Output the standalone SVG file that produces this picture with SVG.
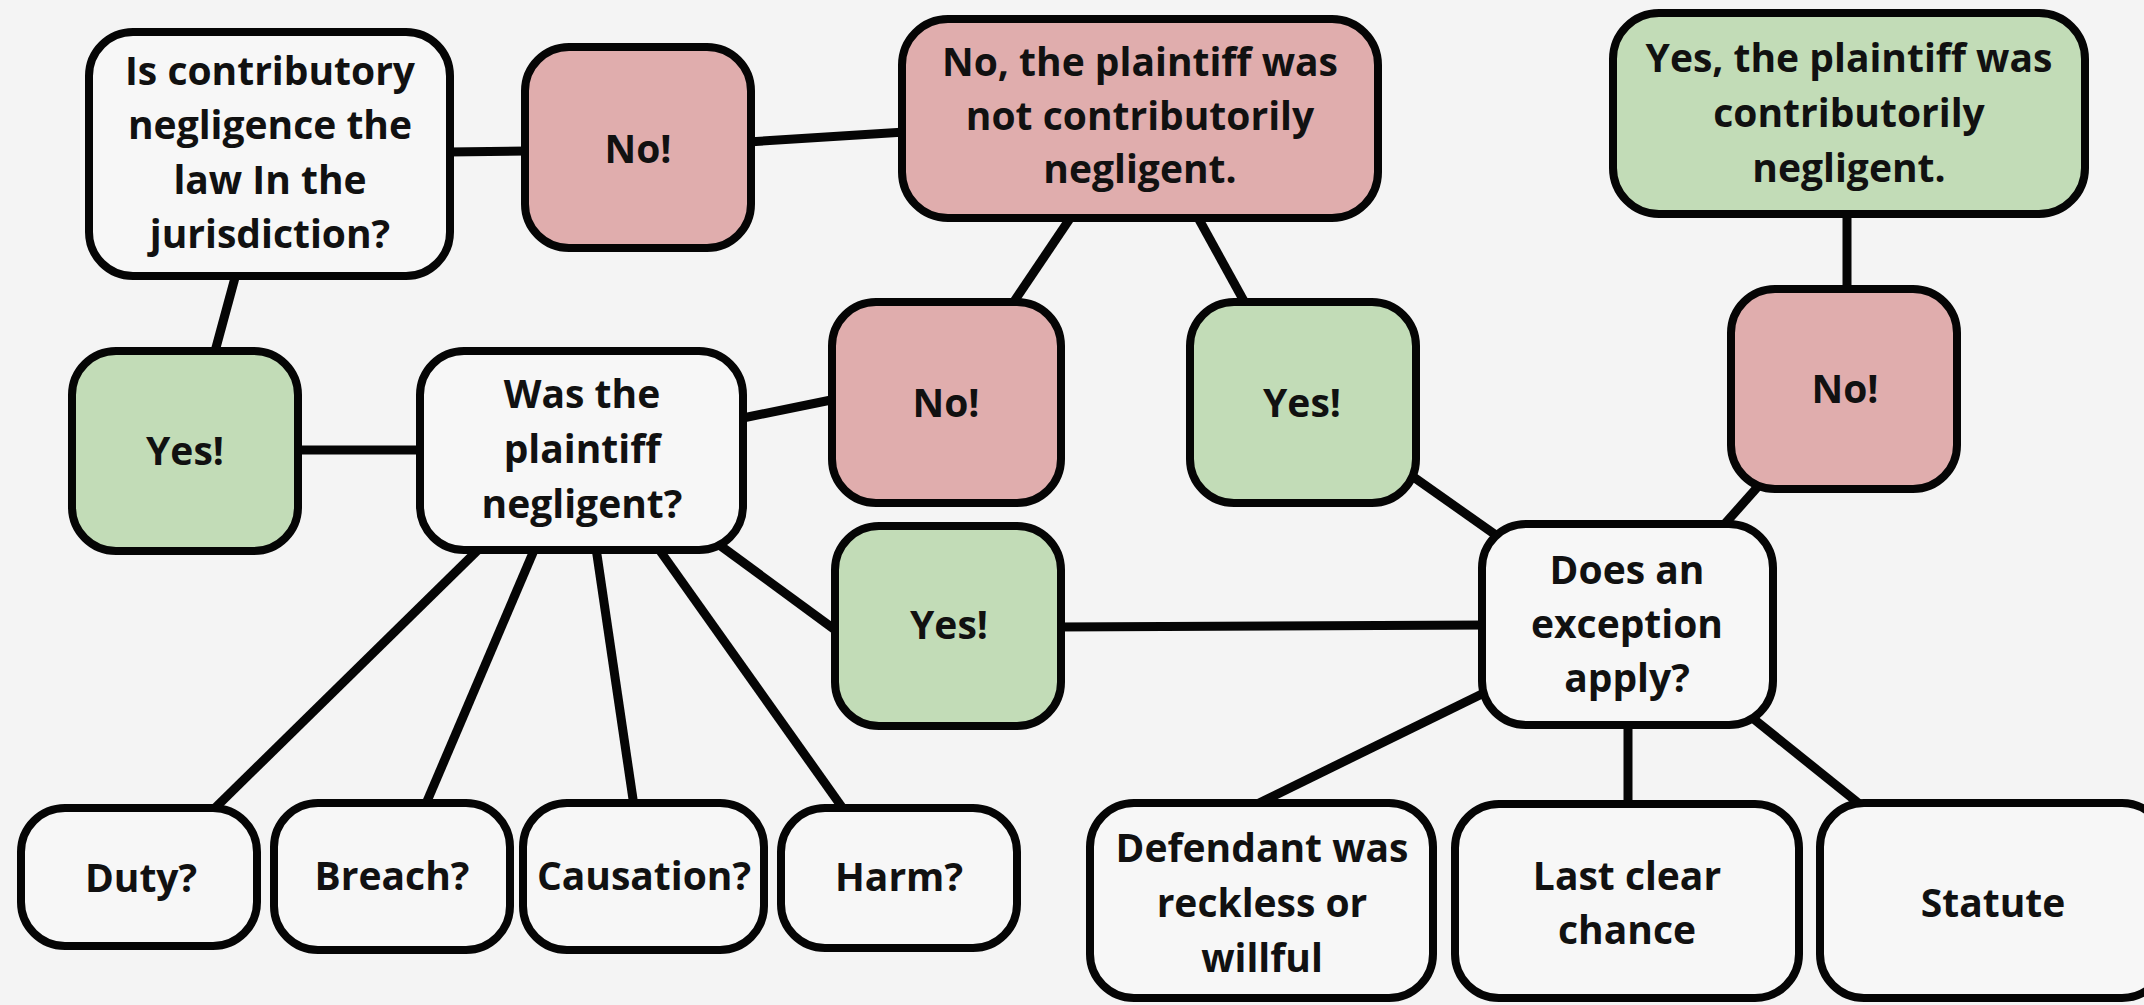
<svg xmlns="http://www.w3.org/2000/svg" width="2144" height="1005" viewBox="0 0 2144 1005">
  <style>
    .box { stroke: #050505; stroke-width: 8; }
    .plain { fill: #f7f7f7; }
    .no { fill: #e0adad; }
    .yes { fill: #c2dcb7; }
    .link { stroke: #050505; stroke-width: 9; stroke-linecap: butt; fill: none; }
    text { font-family: "Open Sans", "Noto Sans", "Liberation Sans", sans-serif; font-weight: 700; font-size: 39px; fill: #111; text-anchor: middle; }
  </style>
  <rect width="2144" height="1005" fill="#f4f4f4"/>

  <!-- connectors, drawn beneath the boxes -->
  <g id="connectors">
    <line class="link" x1="448" y1="152" x2="527" y2="151"/>
    <line class="link" x1="748" y1="142" x2="905" y2="132"/>
    <line class="link" x1="236" y1="274" x2="214" y2="355"/>
    <line class="link" x1="296" y1="450" x2="423" y2="450"/>
    <line class="link" x1="738" y1="419" x2="836" y2="399"/>
    <line class="link" x1="1073" y1="214" x2="1013" y2="303"/>
    <line class="link" x1="1196" y1="214" x2="1245" y2="303"/>
    <line class="link" x1="1847" y1="210" x2="1847" y2="293"/>
    <line class="link" x1="714" y1="541" x2="838" y2="632"/>
    <line class="link" x1="480" y1="548" x2="213" y2="810"/>
    <line class="link" x1="535" y1="548" x2="425" y2="806"/>
    <line class="link" x1="596" y1="548" x2="634" y2="806"/>
    <line class="link" x1="658" y1="548" x2="844" y2="810"/>
    <line class="link" x1="1056" y1="627" x2="1488" y2="625"/>
    <line class="link" x1="1405" y1="471" x2="1500" y2="538"/>
    <line class="link" x1="1762" y1="482" x2="1722" y2="527"/>
    <line class="link" x1="1488" y1="691" x2="1255" y2="805"/>
    <line class="link" x1="1628" y1="720" x2="1628" y2="806"/>
    <line class="link" x1="1750" y1="716" x2="1862" y2="806"/>
  </g>

  <g id="q-jurisdiction">
    <rect class="box plain" x="89" y="32" width="361" height="244" rx="44"/>
    <text x="270" y="85">Is contributory</text>
    <text x="270" y="139">negligence the</text>
    <text x="270" y="194">law In the</text>
    <text x="270" y="248">jurisdiction?</text>
  </g>

  <g id="no-law">
    <rect class="box no" x="525" y="47" width="226" height="201" rx="44"/>
    <text x="638" y="163">No!</text>
  </g>

  <g id="not-contributory">
    <rect class="box no" x="902" y="19" width="476" height="199" rx="46"/>
    <text x="1140" y="76">No, the plaintiff was</text>
    <text x="1140" y="130">not contributorily</text>
    <text x="1140" y="183">negligent.</text>
  </g>

  <g id="contributory">
    <rect class="box yes" x="1613" y="13" width="472" height="201" rx="46"/>
    <text x="1849" y="72">Yes, the plaintiff was</text>
    <text x="1849" y="127">contributorily</text>
    <text x="1849" y="182">negligent.</text>
  </g>

  <g id="yes-law">
    <rect class="box yes" x="72" y="351" width="226" height="200" rx="44"/>
    <text x="185" y="465">Yes!</text>
  </g>

  <g id="q-negligent">
    <rect class="box plain" x="420" y="351" width="323" height="199" rx="44"/>
    <text x="582" y="408">Was the</text>
    <text x="582" y="463">plaintiff</text>
    <text x="582" y="518">negligent?</text>
  </g>

  <g id="no-negligent">
    <rect class="box no" x="832" y="302" width="229" height="201" rx="44"/>
    <text x="946" y="417">No!</text>
  </g>

  <g id="yes-exception">
    <rect class="box yes" x="1190" y="302" width="226" height="201" rx="44"/>
    <text x="1302" y="417">Yes!</text>
  </g>

  <g id="no-exception">
    <rect class="box no" x="1731" y="289" width="226" height="200" rx="44"/>
    <text x="1845" y="403">No!</text>
  </g>

  <g id="yes-negligent">
    <rect class="box yes" x="835" y="526" width="226" height="200" rx="44"/>
    <text x="949" y="639">Yes!</text>
  </g>

  <g id="q-exception">
    <rect class="box plain" x="1482" y="524" width="291" height="201" rx="44"/>
    <text x="1627" y="584">Does an</text>
    <text x="1627" y="638">exception</text>
    <text x="1627" y="692">apply?</text>
  </g>

  <g id="duty">
    <rect class="box plain" x="21" y="808" width="236" height="138" rx="44"/>
    <text x="141" y="892">Duty?</text>
  </g>

  <g id="breach">
    <rect class="box plain" x="274" y="803" width="236" height="147" rx="44"/>
    <text x="392" y="890">Breach?</text>
  </g>

  <g id="causation">
    <rect class="box plain" x="523" y="803" width="241" height="147" rx="44"/>
    <text x="644" y="890">Causation?</text>
  </g>

  <g id="harm">
    <rect class="box plain" x="781" y="808" width="236" height="140" rx="44"/>
    <text x="899" y="891">Harm?</text>
  </g>

  <g id="reckless">
    <rect class="box plain" x="1090" y="803" width="343" height="195" rx="44"/>
    <text x="1262" y="862">Defendant was</text>
    <text x="1262" y="917">reckless or</text>
    <text x="1262" y="972">willful</text>
  </g>

  <g id="last-clear-chance">
    <rect class="box plain" x="1455" y="804" width="344" height="194" rx="44"/>
    <text x="1627" y="890">Last clear</text>
    <text x="1627" y="944">chance</text>
  </g>

  <g id="statute">
    <rect class="box plain" x="1820" y="803" width="346" height="195" rx="44"/>
    <text x="1993" y="917">Statute</text>
  </g>
</svg>
